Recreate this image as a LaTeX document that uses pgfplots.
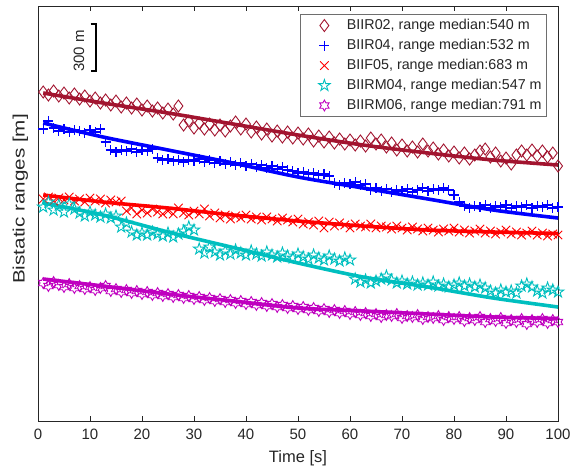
\documentclass[border=0pt]{standalone}
\usepackage{fontspec}
\setmainfont{Liberation Sans}
\usepackage{pgfplots}
\pgfplotsset{compat=1.18}
\usetikzlibrary{plotmarks}
\definecolor{cR02}{HTML}{A2142F}
\definecolor{cR04}{HTML}{0000FF}
\definecolor{cF05}{HTML}{FF0000}
\definecolor{cM04}{HTML}{00BFBF}
\definecolor{cM06}{HTML}{BF00BF}
\definecolor{axcol}{HTML}{262626}
\pgfdeclareplotmark{pentagram}{%
 \pgfpathmoveto{\pgfpointpolar{90}{\pgfplotmarksize}}%
 \pgfpathlineto{\pgfpointpolar{126}{0.382*\pgfplotmarksize}}%
 \pgfpathlineto{\pgfpointpolar{162}{\pgfplotmarksize}}%
 \pgfpathlineto{\pgfpointpolar{198}{0.382*\pgfplotmarksize}}%
 \pgfpathlineto{\pgfpointpolar{234}{\pgfplotmarksize}}%
 \pgfpathlineto{\pgfpointpolar{270}{0.382*\pgfplotmarksize}}%
 \pgfpathlineto{\pgfpointpolar{306}{\pgfplotmarksize}}%
 \pgfpathlineto{\pgfpointpolar{342}{0.382*\pgfplotmarksize}}%
 \pgfpathlineto{\pgfpointpolar{18}{\pgfplotmarksize}}%
 \pgfpathlineto{\pgfpointpolar{54}{0.382*\pgfplotmarksize}}%
 \pgfpathclose\pgfusepathqstroke}
\pgfdeclareplotmark{hexagram}{%
 \pgfpathmoveto{\pgfpointpolar{90}{\pgfplotmarksize}}%
 \pgfpathlineto{\pgfpointpolar{120}{0.577*\pgfplotmarksize}}%
 \pgfpathlineto{\pgfpointpolar{150}{\pgfplotmarksize}}%
 \pgfpathlineto{\pgfpointpolar{180}{0.577*\pgfplotmarksize}}%
 \pgfpathlineto{\pgfpointpolar{210}{\pgfplotmarksize}}%
 \pgfpathlineto{\pgfpointpolar{240}{0.577*\pgfplotmarksize}}%
 \pgfpathlineto{\pgfpointpolar{270}{\pgfplotmarksize}}%
 \pgfpathlineto{\pgfpointpolar{300}{0.577*\pgfplotmarksize}}%
 \pgfpathlineto{\pgfpointpolar{330}{\pgfplotmarksize}}%
 \pgfpathlineto{\pgfpointpolar{0}{0.577*\pgfplotmarksize}}%
 \pgfpathlineto{\pgfpointpolar{30}{\pgfplotmarksize}}%
 \pgfpathlineto{\pgfpointpolar{60}{0.577*\pgfplotmarksize}}%
 \pgfpathclose\pgfusepathqstroke}
\begin{document}
\begin{tikzpicture}
\path[use as bounding box] (-38pt,-46pt) rectangle (544pt,421pt);
\begin{axis}[
  at={(0pt,0pt)}, anchor=south west,
  scale only axis, width=520pt, height=415pt,
  xmin=0, xmax=100, ymin=0, ymax=415,
  xtick={0,10,...,100}, ytick=\empty,
  tick align=inside, major tick length=5pt,
  axis line style={axcol, line width=0.8pt},
  tick style={axcol, line width=0.8pt},
  /pgf/number format/assume math mode=true,
  xticklabel style={font=\fontsize{15}{18}\selectfont, text=axcol, yshift=-4pt},
  xlabel={Time [s]},
  xlabel style={font=\fontsize{16.5}{20}\selectfont, text=axcol, yshift=-4.5pt},
  ylabel={\scalebox{1.25}[1]{Bistatic ranges [m]}},
  ylabel style={at={(axis description cs:-0.0337,0.535)}, anchor=center, font=\fontsize{16.5}{20}\selectfont, text=axcol},
  legend style={at={(axis description cs:0.979,0.981)}, anchor=north east,
    draw={rgb,255:red,110;green,110;blue,110}, line width=0.8pt,
    font=\fontsize{14.3}{17}\selectfont, text=axcol,
    inner xsep=5pt, inner ysep=4pt, row sep=5.5pt,
    nodes={inner sep=0pt, text height=11pt, text depth=3.5pt},
    /tikz/every odd column/.append style={column sep=10pt}},
  legend cell align=left,
  legend image code/.code={\path (0pt,0pt) (30pt,0pt); \draw[#1] plot coordinates {(18pt,0pt)};},
]
% markers
\addplot[only marks, mark=diamond, mark size=6pt, color=cR02, line width=0.9pt] coordinates {
(1,329)(2,326)(3,330)(4,325)(5,328)(6,323)(7,327)(8,322)(9,325)(10,320)
(11,323)(12,318)(13,321)(14,316)(15,320)(16,314)(17,318)(18,313)(19,317)(20,311)
(21,315)(22,310)(23,313)(24,308)(25,312)(26,307)(27,315)(28,296)(29,300)(30,293)
(31,298)(32,292)(33,297)(34,291)(35,296)(36,290)(37,295)(38,299)(39,292)(40,297)
(41,289)(42,294)(43,287)(44,292)(45,285)(46,290)(47,284)(48,289)(49,283)(50,288)
(51,282)(52,287)(53,280)(54,285)(55,279)(56,284)(57,278)(58,282)(59,277)(60,281)
(61,276)(62,280)(63,275)(64,283)(65,277)(66,281)(67,274)(68,278)(69,271)(70,276)
(71,270)(72,274)(73,269)(74,277)(75,270)(76,273)(77,267)(78,271)(79,265)(80,269)
(81,263)(82,268)(83,262)(84,266)(85,270)(86,272)(87,264)(88,268)(89,260)(90,263)
(91,257)(92,266)(93,270)(94,266)(95,271)(96,265)(97,270)(98,264)(99,268)(100,255)};
\addlegendentry{BIIR02, range median:540 m}
\addplot[only marks, mark=+, mark size=5pt, color=cR04, line width=1.1pt] coordinates {
(1,292)(2,300)(3,293)(4,290)(5,292)(6,289)(7,291)(8,290)(9,288)(10,291)
(11,289)(12,292)(13,279)(14,271)(15,269)(16,271)(17,270)(18,272)(19,269)(20,271)
(21,270)(22,272)(23,263)(24,261)(25,262)(26,260)(27,261)(28,259)(29,261)(30,260)
(31,262)(32,259)(33,261)(34,258)(35,260)(36,257)(37,259)(38,256)(39,258)(40,255)
(41,257)(42,254)(43,256)(44,253)(45,255)(46,252)(47,254)(48,251)(49,250)(50,248)
(51,249)(52,247)(53,248)(54,246)(55,247)(56,245)(57,238)(58,236)(59,238)(60,237)
(61,239)(62,236)(63,237)(64,231)(65,233)(66,230)(67,232)(68,229)(69,231)(70,230)
(71,232)(72,229)(73,231)(74,233)(75,230)(76,232)(77,231)(78,233)(79,231)(80,226)
(81,219)(82,215)(83,213)(84,215)(85,214)(86,216)(87,213)(88,215)(89,214)(90,216)
(91,213)(92,215)(93,214)(94,216)(95,213)(96,215)(97,214)(98,216)(99,213)(100,214)};
\addlegendentry{BIIR04, range median:532 m}
\addplot[only marks, mark=x, mark size=6pt, color=cF05, line width=0.9pt] coordinates {
(1,222)(2,224)(3,220)(4,223)(5,221)(6,224)(7,220)(8,222)(9,219)(10,223)
(11,220)(12,222)(13,218)(14,221)(15,219)(16,220)(17,210)(18,213)(19,207)(20,211)
(21,208)(22,212)(23,209)(24,207)(25,210)(26,207)(27,213)(28,208)(29,206)(30,210)
(31,207)(32,212)(33,205)(34,208)(35,203)(36,206)(37,202)(38,205)(39,203)(40,206)
(41,202)(42,204)(43,201)(44,204)(45,202)(46,200)(47,203)(48,201)(49,199)(50,202)
(51,197)(52,199)(53,196)(54,200)(55,193)(56,199)(57,195)(58,198)(59,196)(60,193)
(61,197)(62,195)(63,194)(64,197)(65,193)(66,195)(67,194)(68,192)(69,195)(70,193)
(71,191)(72,194)(73,192)(74,190)(75,193)(76,191)(77,189)(78,192)(79,190)(80,193)
(81,189)(82,191)(83,188)(84,190)(85,192)(86,188)(87,190)(88,187)(89,189)(90,191)
(91,187)(92,189)(93,186)(94,188)(95,190)(96,186)(97,188)(98,185)(99,187)(100,186)};
\addlegendentry{BIIF05, range median:683 m}
\addplot[only marks, mark=pentagram, mark size=6pt, color=cM04, line width=0.9pt] coordinates {
(1,214)(2,219)(3,211)(4,216)(5,209)(6,217)(7,212)(8,208)(9,205)(10,209)
(11,206)(12,204)(13,207)(14,203)(15,205)(16,194)(17,198)(18,189)(19,186)(20,188)
(21,186)(22,189)(23,187)(24,185)(25,188)(26,184)(27,187)(28,190)(29,194)(30,191)
(31,172)(32,168)(33,174)(34,169)(35,166)(36,170)(37,167)(38,171)(39,168)(40,166)
(41,170)(42,167)(43,165)(44,169)(45,166)(46,164)(47,168)(48,165)(49,163)(50,167)
(51,164)(52,162)(53,166)(54,163)(55,161)(56,165)(57,162)(58,160)(59,163)(60,161)
(61,142)(62,139)(63,141)(64,138)(65,140)(66,142)(67,145)(68,141)(69,138)(70,140)
(71,137)(72,139)(73,136)(74,138)(75,136)(76,139)(77,135)(78,137)(79,134)(80,136)
(81,138)(82,135)(83,137)(84,134)(85,136)(86,133)(87,130)(88,128)(89,131)(90,129)
(91,130)(92,128)(93,135)(94,137)(95,134)(96,130)(97,128)(98,133)(99,131)(100,129)};
\addlegendentry{BIIRM04, range median:547 m}
\addplot[only marks, mark=hexagram, mark size=5.4pt, color=cM06, line width=0.9pt] coordinates {
(1,138)(2,135)(3,139)(4,136)(5,134)(6,137)(7,133)(8,135)(9,132)(10,134)
(11,131)(12,133)(13,135)(14,130)(15,132)(16,129)(17,131)(18,128)(19,130)(20,127)
(21,129)(22,126)(23,128)(24,125)(25,127)(26,124)(27,126)(28,123)(29,125)(30,122)
(31,124)(32,121)(33,123)(34,120)(35,122)(36,119)(37,121)(38,118)(39,120)(40,117)
(41,119)(42,116)(43,118)(44,115)(45,117)(46,114)(47,116)(48,113)(49,115)(50,112)
(51,114)(52,111)(53,113)(54,110)(55,112)(56,109)(57,111)(58,108)(59,110)(60,107)
(61,109)(62,106)(63,108)(64,105)(65,107)(66,104)(67,106)(68,105)(69,107)(70,103)
(71,105)(72,104)(73,106)(74,102)(75,104)(76,103)(77,105)(78,101)(79,104)(80,102)
(81,104)(82,100)(83,103)(84,101)(85,104)(86,99)(87,102)(88,100)(89,103)(90,98)
(91,101)(92,99)(93,102)(94,97)(95,101)(96,99)(97,102)(98,98)(99,101)(100,99)};
\addlegendentry{BIIRM06, range median:791 m}
% fitted lines
\addplot[forget plot, smooth, color=cR02, line width=3.6pt] coordinates {
(1,328)(12.5,318)(25,308)(37.5,297)(50,286)(62.5,276)(75,268)(87.5,261)(100,256)};
\addplot[forget plot, smooth, color=cR04, line width=3.6pt] coordinates {
(1,298)(12.5,284)(25,271)(37.5,258)(50,244)(62.5,233)(75,222)(87.5,211)(100,203)};
\addplot[forget plot, smooth, color=cF05, line width=3.6pt] coordinates {
(1,226)(12.5,219)(25,213)(37.5,206)(50,200)(62.5,195)(75,191)(87.5,189)(100,187.5)};
\addplot[forget plot, smooth, color=cM04, line width=3.6pt] coordinates {
(1,218)(12.5,206)(25,189)(37.5,173.5)(50,158)(62.5,144)(75,134)(87.5,123)(100,114)};
\addplot[forget plot, smooth, color=cM06, line width=3.6pt] coordinates {
(1,142)(12.5,135)(25,127)(37.5,120)(50,113)(62.5,110)(75,107)(87.5,104)(100,102.5)};
% scale bar
\draw[black, line width=1.8pt] (axis cs:10.1,397) -- (axis cs:11.1,397) -- (axis cs:11.1,350) -- (axis cs:10.1,350);
\node[rotate=90, font=\fontsize{15}{18}\selectfont, text=axcol] at (axis cs:7.9,370) {300 m};
\end{axis}
\end{tikzpicture}
\end{document}
